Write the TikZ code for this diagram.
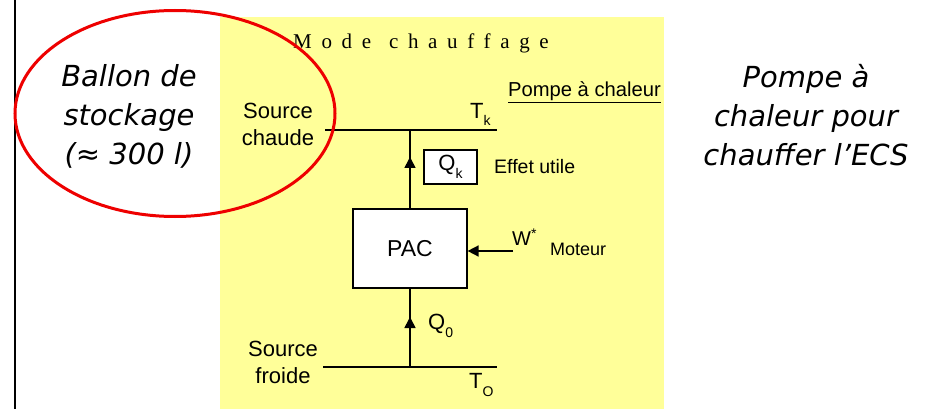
\documentclass[tikz,border=0pt]{standalone}
\usepackage{fontspec}
\setmainfont{Liberation Sans}
\newfontfamily\itfont{DejaVu Sans}
\newfontfamily\modefont[LetterSpace=46]{Liberation Serif}
\usetikzlibrary{arrows.meta}
\definecolor{bgyellow}{HTML}{FFFF99}
\definecolor{ovalred}{HTML}{EE0000}
\tikzset{
  x=1pt, y=-1pt,
  bigit/.style={font=\itfont\itshape\fontsize{29}{39}\selectfont, align=center, inner sep=0pt},
  lbl/.style={font=\fontsize{22}{27}\selectfont, align=center, inner sep=0pt},
  small/.style={font=\fontsize{19.5}{22}\selectfont, inner sep=0pt},
  tiny/.style={font=\fontsize{18}{20}\selectfont, inner sep=0pt},
  box/.style={draw=black, line width=1.2pt, fill=white, inner sep=0pt},
  wire/.style={line width=1.6pt},
  flow/.style={line width=1.6pt, -{Triangle[length=11pt,width=11pt]}},
}
\newcommand{\dnsub}[1]{\raisebox{-0.35em}{\fontsize{14}{14}\selectfont #1}}
\begin{document}
\begin{tikzpicture}
\useasboundingbox (0,0) rectangle (932,409);
\fill[white] (0,0) rectangle (932,409);
\fill[bgyellow] (220,17) rectangle (664,409);
\draw[line width=2.5pt] (15,0) -- (15,409);

\node[font=\modefont\fontsize{21}{23}\selectfont, anchor=west, inner sep=0pt] (mode) at (293,43) {Mode\hspace{3pt} chauffage};
\node[font=\fontsize{20.2}{22}\selectfont, inner sep=0pt, anchor=east] (pac-title) at (661,92) {\underline{Pompe à chaleur}};

% hot source
\node[lbl] (hot) at (278,124) {Source\\chaude};
\coordinate (hotL) at (325,130);
\coordinate (hotR) at (497,130);
\coordinate (hotM) at (410,130);
\draw[wire] (hotL) -- (hotR);
\node[lbl, anchor=south west] (tk) at (470,126) {T\dnsub{k}};

% cold source
\node[lbl] (cold) at (283,362) {Source\\froide};
\coordinate (coldL) at (323,367);
\coordinate (coldR) at (497,367);
\coordinate (coldM) at (410,367);
\draw[wire] (coldL) -- (coldR);
\node[lbl, anchor=north west] (to) at (469,373) {T\dnsub{O}};

% PAC box
\node[box, minimum width=114pt, minimum height=79pt, font=\fontsize{23}{26}\selectfont] (pac) at (410,248.5) {PAC};

% Qk
\node[box, minimum width=53pt, minimum height=34pt, font=\fontsize{22}{24}\selectfont] (qk) at (450.5,167) {Q\dnsub{k}};
\node[small, anchor=west] (effet) at (494,167) {Effet utile};

% flows
\coordinate (a1) at (410,157);
\draw[wire] (pac.north) -- (hotM);
\draw[flow] (pac.north) -- (a1);
\coordinate (a2) at (410,317);
\draw[wire] (coldM) -- (pac.south);
\draw[flow] (coldM) -- (a2);
\node[lbl, anchor=west] (q0) at (428,326) {Q\dnsub{0}};

% work
\coordinate (wS) at (513,251);
\draw[flow] (wS) -- (pac.east |- wS);
\node[font=\fontsize{20}{22}\selectfont, inner sep=0pt, anchor=west] (w) at (512,237) {W\raisebox{0.35em}{\fontsize{14}{14}\selectfont *}};
\node[tiny, anchor=west] (mot) at (550,249) {Moteur};

% ellipse
\draw[ovalred, line width=3pt] (175,113.5) ellipse [x radius=160, y radius=103];
\node[bigit] (ballon) at (129,116) {Ballon de\\stockage\\(≈ 300 l)};

\node[bigit] (right) at (806,115) {Pompe à\\chaleur pour\\chauffer l’ECS};
\end{tikzpicture}
\end{document}
